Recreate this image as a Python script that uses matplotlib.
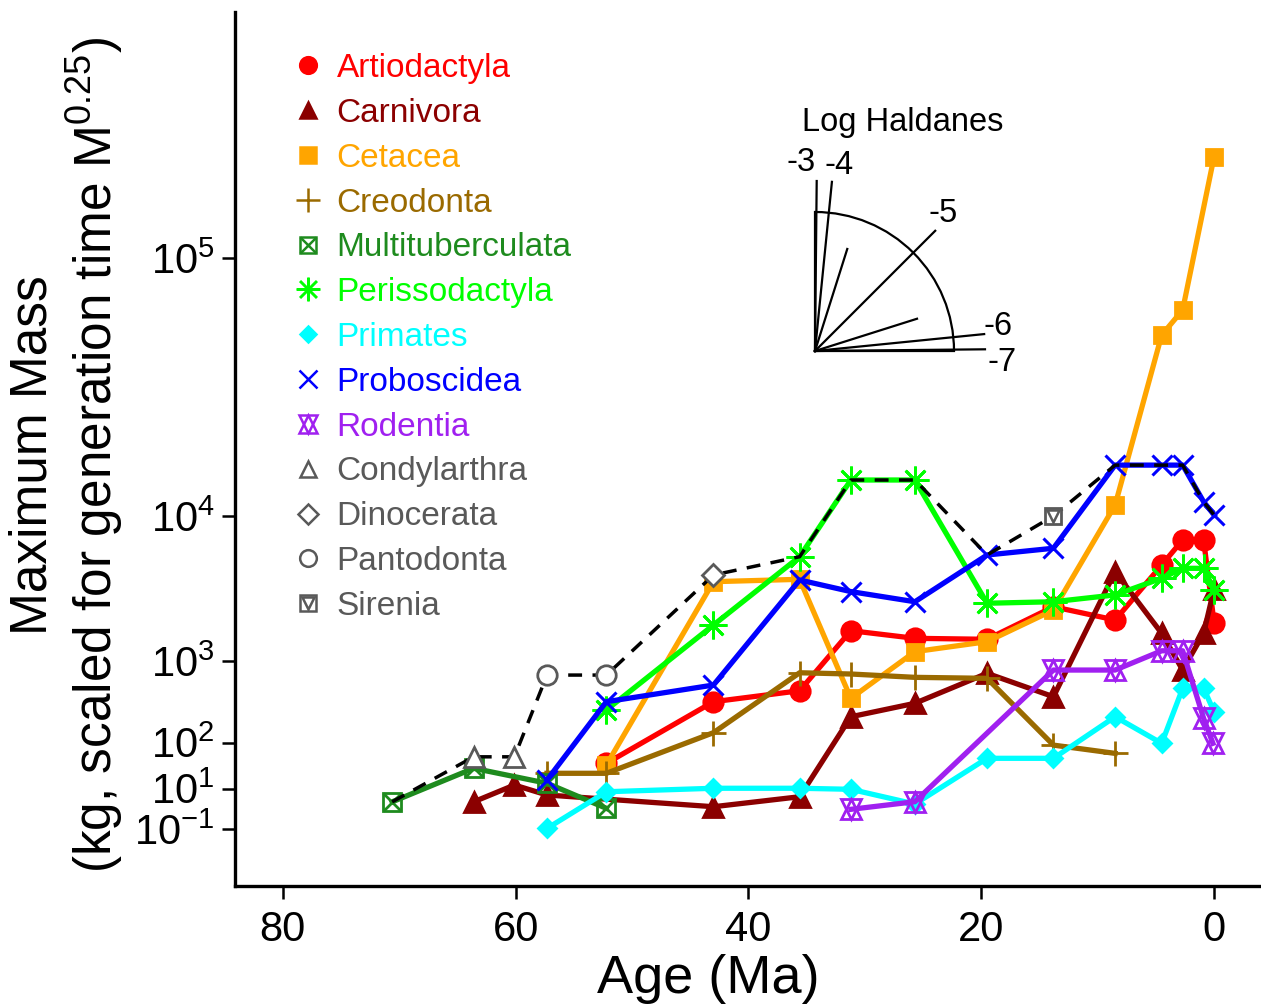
import numpy as np
import matplotlib
matplotlib.use("Agg")
import matplotlib.pyplot as plt
from matplotlib.lines import Line2D
from matplotlib.patches import Arc

plt.rcParams['font.family'] = ['Liberation Sans', 'DejaVu Sans']
plt.rcParams['mathtext.fontset'] = 'custom'
plt.rcParams['mathtext.rm'] = 'Liberation Sans'
plt.rcParams['mathtext.it'] = 'Liberation Sans:italic'
plt.rcParams['mathtext.default'] = 'regular'

# ---------------- data (age in Ma, maximum mass in kg) ----------------
art_age = [52.2, 43.0, 35.6, 31.2, 25.7, 19.5, 13.8, 8.5, 4.5, 2.7, 0.9, 0.0]
art_mass = [41.6, 374, 500, 1830, 1585, 1556, 2780, 2218, 5270, 7410, 7410, 2113]

car_age = [63.6, 60.1, 57.3, 43.0, 35.6, 31.2, 25.7, 19.5, 13.8, 8.5, 4.5, 2.7, 0.9, 0.0]
car_mass = [3.6, 12.6, 6.3, 2.29, 5.5, 242, 358, 762, 428, 4790, 1742, 821, 1742, 3700]

cet_age = [52.2, 43.0, 35.6, 31.2, 25.7, 19.5, 13.8, 8.5, 4.5, 2.7, 0.0]
cet_mass = [38.4, 4134, 4283, 410, 1218, 1486, 2630, 11390, 57100, 69100, 188600]

cre_age = [57.3, 52.2, 43.0, 35.6, 31.2, 25.7, 19.5, 13.8, 8.5]
cre_mass = [25.1, 25.1, 144, 772, 750, 694, 678, 91, 65]

mul_age = [70.6, 63.6, 57.3, 52.2]
mul_mass = [3.6, 32.6, 14.1, 1.95]

per_age = [52.2, 43.0, 35.6, 31.2, 25.7, 19.5, 13.8, 8.5, 4.5, 2.7, 0.9, 0.0]
per_mass = [296, 2030, 5920, 15100, 15100, 2947, 3020, 3370, 4350, 5030, 5030, 3640]

pri_age = [57.3, 52.2, 43.0, 35.6, 31.2, 25.7, 19.5, 13.8, 8.5, 4.5, 2.7, 0.9, 0.0]
pri_mass = [0.11, 8.0, 10.2, 10.2, 9.5, 2.96, 52.4, 52.4, 242, 97.5, 531, 531, 282]

pro_age = [57.3, 52.2, 43.0, 35.6, 31.2, 25.7, 19.5, 13.8, 8.5, 4.5, 2.7, 0.9, 0.0]
pro_mass = [17.2, 374, 577, 4240, 3550, 3020, 6060, 6640, 17700, 17700, 17700, 11830, 10120]

rod_age = [31.2, 25.7, 13.8, 8.5, 4.5, 2.7, 0.9, 0.1]
rod_mass = [1.76, 3.64, 821, 821, 1240, 1240, 231, 97.5]

con_age = [63.6, 60.1]
con_mass = [56, 56]
din_age = [43.0]
din_mass = [4566]
pan_age = [57.3, 52.2]
pan_mass = [732, 732]
sir_age = [13.8]
sir_mass = [10000]

env_age = [70.6, 63.6, 60.1, 57.3, 52.2, 43.0, 35.6, 31.2, 25.7, 19.5, 13.8, 8.5, 4.5, 2.7, 0.9, 0.0]
env_mass = [3.6, 56, 56, 732, 732, 4566, 5920, 15100, 15100, 6060, 10000, 17700, 17700, 17700, 11830, 10120]

x_ticks = [80, 60, 40, 20, 0]
y_ticks = [0.1, 10, 100, 1000, 1e4, 1e5]
y_tick_labels = ['$10^{-1}$', '$10^{1}$', '$10^{2}$', '$10^{3}$', '$10^{4}$', '$10^{5}$']

haldanes = [-3, -4, -4.5, -5, -5.5, -6, -7]

# ---------------- styles ----------------
ART = '#FF0000'; CAR = '#8B0000'; CET = '#FFA500'; CRE = '#9A6A00'
MUL = '#1E8B1E'; PER = '#00FF00'; PRI = '#00FFFF'; PRO = '#0000FF'
ROD = '#A020F0'; GRAY = '#595959'

W, H = 1261, 1005
fig = plt.figure(figsize=(W / 100, H / 100), dpi=100)
ax = fig.add_axes([235 / W, (H - 886) / H, (W - 235) / W, (886 - 12) / H])

fwd = lambda v: np.sign(v) * np.abs(v) ** 0.25
inv = lambda v: np.sign(v) * np.abs(v) ** 4
ax.set_yscale('function', functions=(fwd, inv))

LW = 3.8
MS = 13

def series(x, y, color, marker, ms=MS, fill=True, mew=2.0, extra=None):
    ax.plot(x, y, color=color, lw=LW, marker=marker, ms=ms,
            mfc=color if fill else 'none', mec=color, mew=mew, zorder=2)
    if extra is not None:
        ax.plot(x, y, ls='none', marker=extra, ms=ms, mfc='none', mec=color, mew=mew, zorder=2)

series(art_age, art_mass, ART, 'o', ms=14)
series(car_age, car_mass, CAR, '^', ms=14)
series(cet_age, cet_mass, CET, 's', ms=12)
series(cre_age, cre_mass, CRE, '+', ms=18, mew=2.0)
series(mul_age, mul_mass, MUL, 's', ms=13, fill=False, mew=2.0, extra='x')
series(per_age, per_mass, PER, (8, 2, 0), ms=20, mew=2.0)
series(pri_age, pri_mass, PRI, 'D', ms=9)
series(pro_age, pro_mass, PRO, 'x', ms=15, mew=2.2)
series(rod_age, rod_mass, ROD, '^', ms=14, fill=False, mew=2.0, extra='v')

ax.plot(env_age, env_mass, color='black', lw=2.5, ls=(0, (4, 3)), zorder=3)

ax.plot(con_age, con_mass, ls='none', marker='^', ms=15, mfc='white', mec=GRAY, mew=2.0, zorder=4)
ax.plot(din_age, din_mass, ls='none', marker='D', ms=11, mfc='white', mec=GRAY, mew=2.0, zorder=4)
ax.plot(pan_age, pan_mass, ls='none', marker='o', ms=14, mfc='white', mec=GRAY, mew=2.0, zorder=4)
ax.plot(sir_age, sir_mass, ls='none', marker='s', ms=12, mfc='white', mec=GRAY, mew=2.0, zorder=4)
ax.plot(sir_age, sir_mass, ls='none', marker='v', ms=9, mfc='none', mec=GRAY, mew=1.8, zorder=4)

# ---------------- axes ----------------
ax.set_xlim(84.1, -4.03)
ax.set_ylim(-1.817, 403400)
ax.set_xticks(x_ticks)
ax.set_xticklabels([str(t) for t in x_ticks])
ax.set_yticks(y_ticks)
ax.set_yticklabels(y_tick_labels)
ax.minorticks_off()
for s in ['top', 'right']:
    ax.spines[s].set_visible(False)
for s in ['left', 'bottom']:
    ax.spines[s].set_linewidth(2.4)
ax.tick_params(axis='both', which='major', length=9.5, width=1.8, labelsize=30, direction='out')
ax.tick_params(axis='x', pad=8)
ax.tick_params(axis='y', pad=5)

fig.text(708 / W, 1 - 979 / H, 'Age (Ma)', ha='center', va='center', fontsize=39)
fig.text(67 / W, 1 - 455 / H,
         'Maximum Mass\n(kg, scaled for generation time M$^{0.25}$)',
         rotation=90, ha='center', va='center', multialignment='center',
         fontsize=37, linespacing=1.15)

# ---------------- legend ----------------
LMS = 12
def h(marker, color, fill=True, ms=LMS, mew=1.8):
    return Line2D([], [], ls='none', marker=marker, ms=ms,
                  mfc=color if fill else 'none', mec=color, mew=mew)

handles = [
    h('o', ART), h('^', CAR), h('s', CET), h('+', CRE, ms=17),
    (h('s', MUL, fill=False, ms=11), h('x', MUL, ms=11)),
    h((8, 2, 0), PER, ms=17), h('D', PRI, ms=8), h('x', PRO, ms=13),
    (h('^', ROD, fill=False, ms=13), h('v', ROD, fill=False, ms=13)),
    h('^', GRAY, fill=False, ms=12), h('D', GRAY, fill=False, ms=10),
    h('o', GRAY, fill=False, ms=12),
    (h('s', GRAY, fill=False, ms=11), h('v', GRAY, fill=False, ms=8)),
]
labels = ['Artiodactyla', 'Carnivora', 'Cetacea', 'Creodonta', 'Multituberculata',
          'Perissodactyla', 'Primates', 'Proboscidea', 'Rodentia', 'Condylarthra',
          'Dinocerata', 'Pantodonta', 'Sirenia']
label_colors = [ART, CAR, CET, CRE, MUL, PER, PRI, PRO, ROD, GRAY, GRAY, GRAY, GRAY]
fig.legend(handles, labels, loc='upper left', bbox_to_anchor=(295 / W, 1 - 53 / H),
           frameon=False, fontsize=24, labelcolor=label_colors,
           handlelength=0.8, handletextpad=0.45, labelspacing=0.415,
           borderpad=0, borderaxespad=0)

# ---------------- Log Haldanes inset ----------------
ov = fig.add_axes([0, 0, 1, 1], zorder=5)
ov.set_xlim(0, W)
ov.set_ylim(H, 0)
ov.axis('off')
ov.patch.set_alpha(0)
ox, oy, R = 815, 351, 139
ov.add_patch(Arc((ox, oy), 2 * R, 2 * R, theta1=270, theta2=360, lw=1.6, color='black'))
ov.plot([ox, ox], [oy, oy - R], color='black', lw=1.6)
ov.plot([ox, ox + R], [oy, oy], color='black', lw=1.6)
for hv in haldanes:
    ang = np.arctan(10.0 ** (-5 - hv))
    L = 170 if float(hv).is_integer() else 107
    ov.plot([ox, ox + L * np.cos(ang)], [oy, oy - L * np.sin(ang)], color='black', lw=1.6)
label_pos = {-3: (801, 162), -4: (839, 165), -5: (943, 213), -6: (998, 326), -7: (1002, 362)}
for hv, (tx, ty) in label_pos.items():
    ov.text(tx, ty, str(hv), ha='center', va='center', fontsize=23.5)
ov.text(903, 122, 'Log Haldanes', ha='center', va='center', fontsize=23.5)

fig.savefig('out.png', dpi=100)
